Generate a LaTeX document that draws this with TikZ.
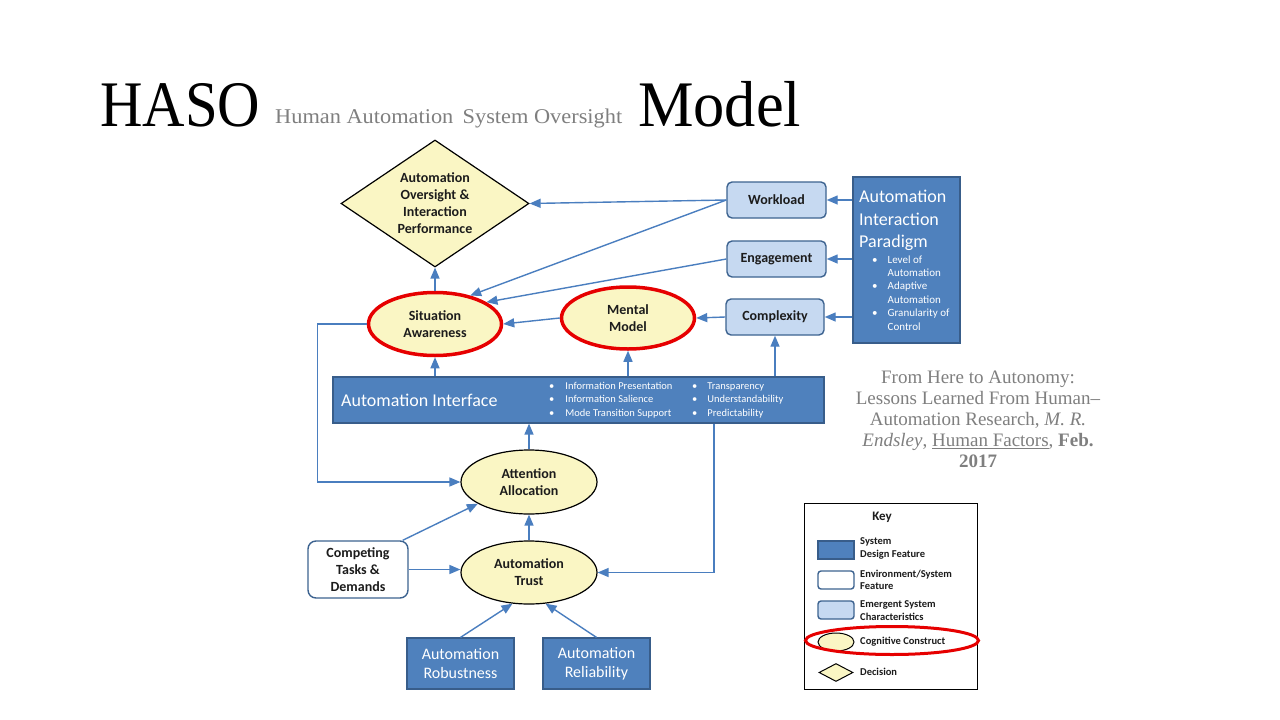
\documentclass[tikz,border=0pt]{standalone}
\usepackage{fontspec}
\setmainfont{Carlito}
\newfontfamily\serifface{Liberation Serif}
\usepackage{graphicx}
\usetikzlibrary{shapes.geometric,arrows.meta}

\definecolor{sysblue}{HTML}{4F81BD}
\definecolor{sysedge}{HTML}{385D8A}
\definecolor{emfill}{HTML}{C6D9F1}
\definecolor{emedge}{HTML}{3D6390}
\definecolor{cogfill}{HTML}{FAF6C4}
\definecolor{linkblue}{HTML}{4A7EBF}
\definecolor{ringred}{HTML}{E60000}
\definecolor{citegray}{HTML}{7F7F7F}
\definecolor{inktext}{HTML}{1C1C1C}

\tikzset{
  lbl/.style={font=\fontsize{14}{17}\selectfont\bfseries, text=inktext, align=center},
  sysbox/.style={draw=sysedge, line width=1.2pt, fill=sysblue, inner sep=0pt, text=white,
    font=\fontsize{16}{19.5}\selectfont, align=center},
  emerg/.style={lbl, draw=emedge, line width=1.4pt, fill=emfill, rounded corners=5pt, inner sep=0pt},
  envbox/.style={lbl, draw=emedge, line width=1.4pt, fill=white, rounded corners=8pt, inner sep=0pt},
  cog/.style={lbl, ellipse, draw=black, line width=1.2pt, fill=cogfill, inner sep=0pt},
  cogred/.style={cog, draw=ringred, line width=3.5pt},
  link/.style={draw=linkblue, line width=1.4pt, -{Triangle[length=11pt,width=9pt]}},
  whitetxt/.style={text=white, inner sep=0pt, anchor=west, align=left},
  keytxt/.style={font=\fontsize{10.5}{12.5}\selectfont\bfseries, text=inktext, align=left,
    anchor=west, inner sep=0pt},
}

\begin{document}
\begin{tikzpicture}[x=1pt,y=-1pt]
\fill[white] (0,0) rectangle (1280,720);
\useasboundingbox (0,0) rectangle (1280,720);

% ---------- title ----------
\node[anchor=base west, inner sep=0pt] (ttlA) at (100,126)
  {\resizebox{160pt}{\height}{\serifface\fontsize{65}{65}\selectfont HASO}};
\node[anchor=base west, inner sep=0pt, text=citegray] (ttlB) at (275,123)
  {\resizebox{347pt}{\height}{\serifface\fontsize{21}{21}\selectfont Human Automation\, System Oversight}};
\node[anchor=base west, inner sep=0pt] (ttlC) at (638,126)
  {\resizebox{163pt}{\height}{\serifface\fontsize{65}{65}\selectfont Model}};

% ---------- nodes ----------
\node[lbl, diamond, aspect=1.48, draw=black, line width=1.2pt, fill=cogfill, inner sep=0pt,
      minimum width=188pt, minimum height=127pt] (dec) at (435,203.5)
  {Automation\\Oversight \&\\Interaction\\Performance};

\node[emerg, minimum width=99pt, minimum height=36pt] (wl)  at (776.5,200) {Workload};
\node[emerg, minimum width=99pt, minimum height=36pt] (eng) at (776.5,259) {Engagement};
\node[emerg, minimum width=98pt, minimum height=36pt] (cpx) at (775,317) {Complexity};

\node[sysbox, minimum width=107pt, minimum height=166pt] (aip) at (906.5,260) {};
\node[whitetxt, font=\fontsize{18}{22.5}\selectfont] (aiptitle) at (859,220.5)
  {Automation\\Interaction\\Paradigm};
\node[whitetxt, font=\fontsize{11}{13.4}\selectfont] (aipitems) at (872,294)
  {\begin{tabular}{@{}l@{\hspace{10pt}}l@{}}
   \textbullet & Level of\\ & Automation\\
   \textbullet & Adaptive\\ & Automation\\
   \textbullet & Granularity of\\ & Control
   \end{tabular}};

\node[cogred, minimum width=133pt, minimum height=63pt] (sa) at (435,324) {Situation\\Awareness};
\node[cogred, minimum width=133pt, minimum height=62pt] (mm) at (628,318) {Mental\\Model};

\node[sysbox, minimum width=491pt, minimum height=46pt] (iface) at (578.5,400) {};
\node[whitetxt, font=\fontsize{18}{22}\selectfont] (ifacetitle) at (341,400) {Automation Interface};
\node[whitetxt, font=\fontsize{10.5}{13.4}\selectfont] (ifaceA) at (549,400)
  {\begin{tabular}{@{}l@{\hspace{11pt}}l@{}}
   \textbullet & Information Presentation\\
   \textbullet & Information Salience\\
   \textbullet & Mode Transition Support
   \end{tabular}};
\node[whitetxt, font=\fontsize{10.5}{13.4}\selectfont] (ifaceB) at (692,400)
  {\begin{tabular}{@{}l@{\hspace{10pt}}l@{}}
   \textbullet & Transparency\\
   \textbullet & Understandability\\
   \textbullet & Predictability
   \end{tabular}};

\node[cog, minimum width=136pt, minimum height=64pt] (aa) at (529,482) {Attention\\Allocation};
\node[cog, minimum width=136pt, minimum height=63pt] (at) at (529,572.5) {Automation\\Trust};

\node[envbox, minimum width=100pt, minimum height=57pt] (ct) at (358,569.5) {Competing\\Tasks \&\\Demands};

\node[sysbox, minimum width=107pt, minimum height=51pt] (rob) at (460.5,663.5) {Automation\\Robustness};
\node[sysbox, minimum width=107pt, minimum height=51pt] (rel) at (596.5,663.5) {Automation\\Reliability};

% ---------- connectors ----------
\draw[link] (sa.north) -- (dec.south);
\draw[link] (wl.west) -- (dec.east);
\draw[link] (wl.west) -- (sa.39);
\draw[link] (eng.west) -- (sa.23);
\draw[link] (mm.west) -- (sa.east);
\draw[link] (cpx.west) -- (mm.east);
\draw[link] (wl.east -| aip.west) -- (wl.east);
\draw[link] (eng.east -| aip.west) -- (eng.east);
\draw[link] (cpx.east -| aip.west) -- (cpx.east);
\draw[link] (iface.north -| sa.south) -- (sa.south);
\draw[link] (iface.north -| mm.south) -- (mm.south);
\draw[link] (iface.north -| cpx.south) -- (cpx.south);
\draw[link] (sa.west) -- ++(-49,0) |- (aa.west);
\draw[link] (aa.north) -- (aa.north |- iface.south);
\draw[link] (at.north) -- (aa.south);
\draw[link] ([xshift=-6pt]ct.north east) -- (aa.203);
\draw[link] (ct.east) -- (ct.east -| at.west);
\draw[link] ([xshift=135.5pt]iface.south) |- (at.east);
\draw[link] (rob.north) -- (at.242);
\draw[link] (rel.north) -- (at.298);

% ---------- citation ----------
\node[align=center, text=citegray, font=\serifface\fontsize{19}{21}\selectfont, inner sep=0pt] (cite) at (978,419)
  {From Here to Autonomy:\\
   Lessons Learned From Human–\\
   Automation Research, \textit{M. R.}\\
   \textit{Endsley}, \underline{Human Factors}, \textbf{Feb.}\\
   \textbf{2017}};

% ---------- key ----------
\node[draw=black, line width=0.9pt, fill=white, minimum width=173pt, minimum height=186pt, inner sep=0pt]
  (keybox) at (890.5,596) {};
\node[font=\fontsize{13}{15}\selectfont\bfseries, text=inktext, inner sep=0pt] (keyhead) at (882,517) {Key};
\node[sysbox, minimum width=36pt, minimum height=18pt] (k1) at (836,550) {};
\node[keytxt] (k1t) at (860,548.5) {System\\Design Feature};
\node[envbox, rounded corners=3pt, minimum width=36pt, minimum height=18pt] (k2) at (836,580) {};
\node[keytxt] (k2t) at (860,580) {Environment/System\\Feature};
\node[emerg, rounded corners=3pt, minimum width=36pt, minimum height=18pt] (k3) at (836,610) {};
\node[keytxt] (k3t) at (860,610.5) {Emergent System\\Characteristics};
\node[cog, line width=1pt, minimum width=36pt, minimum height=18pt] (k4) at (836,642) {};
\node[keytxt] (k4t) at (860,642) {Cognitive Construct};
\node[diamond, draw=black, line width=1pt, fill=cogfill, inner sep=0pt, aspect=1.9,
      minimum width=34pt, minimum height=18pt] (k5) at (836,672.5) {};
\node[keytxt] (k5t) at (860,672) {Decision};
\node[ellipse, draw=ringred, line width=3pt, minimum width=173pt, minimum height=28pt, inner sep=0pt]
  (kring) at (892,640.5) {};

\end{tikzpicture}
\end{document}
